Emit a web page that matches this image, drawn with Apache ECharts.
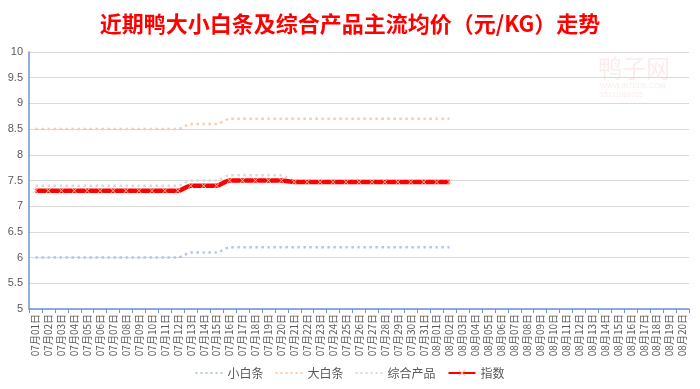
<!DOCTYPE html>
<html><head><meta charset="utf-8">
<script src="https://cdn.jsdelivr.net/npm/echarts@6/dist/echarts.min.js"></script>
<style>html,body{margin:0;padding:0;background:#fff}#c{width:700px;height:389px}</style>
</head><body><div id="c"></div>
<script>
var categories = ["07月01日","07月02日","07月03日","07月04日","07月05日","07月06日","07月07日","07月08日","07月09日","07月10日","07月11日","07月12日","07月13日","07月14日","07月15日","07月16日","07月17日","07月18日","07月19日","07月20日","07月21日","07月22日","07月23日","07月24日","07月25日","07月26日","07月27日","07月28日","07月29日","07月30日","07月31日","08月01日","08月02日","08月03日","08月04日","08月05日","08月06日","08月07日","08月08日","08月09日","08月10日","08月11日","08月12日","08月13日","08月14日","08月15日","08月16日","08月17日","08月18日","08月19日","08月20日"];
var xiaoBaiTiao = [6.0,6.0,6.0,6.0,6.0,6.0,6.0,6.0,6.0,6.0,6.0,6.0,6.1,6.1,6.1,6.2,6.2,6.2,6.2,6.2,6.2,6.2,6.2,6.2,6.2,6.2,6.2,6.2,6.2,6.2,6.2,6.2,6.2];
var daBaiTiao = [8.5,8.5,8.5,8.5,8.5,8.5,8.5,8.5,8.5,8.5,8.5,8.5,8.6,8.6,8.6,8.7,8.7,8.7,8.7,8.7,8.7,8.7,8.7,8.7,8.7,8.7,8.7,8.7,8.7,8.7,8.7,8.7,8.7];
var zongHe = [7.4,7.4,7.4,7.4,7.4,7.4,7.4,7.4,7.4,7.4,7.4,7.4,7.5,7.5,7.5,7.6,7.6,7.6,7.6,7.6,7.5,7.5,7.5,7.5,7.5,7.5,7.5,7.5,7.5,7.5,7.5,7.5,7.5];
var zhiShu = [7.3,7.3,7.3,7.3,7.3,7.3,7.3,7.3,7.3,7.3,7.3,7.3,7.4,7.4,7.4,7.5,7.5,7.5,7.5,7.5,7.47,7.47,7.47,7.47,7.47,7.47,7.47,7.47,7.47,7.47,7.47,7.47,7.47];
var seriesNames = ["小白条","大白条","综合产品","指数"];

var chart = echarts.init(document.getElementById('c'), null, {renderer:'canvas'});
var crossPath = 'path://M0,0 L1,0 L5,4 L9,0 L10,0 L10,1 L6,5 L10,9 L10,10 L9,10 L5,6 L1,10 L0,10 L0,9 L4,5 L0,1 Z';
var dotIcon = 'path://M0,0h2v2h-2z M5,0h2v2h-2z M10,0h2v2h-2z M15,0h2v2h-2z M20,0h2v2h-2z M25,0h2v2h-2z';
function dotted(name, data, color){
  return {name:name, type:'line', data:data, showSymbol:false, symbol:'none', smooth:0.25,
    lineStyle:{color:color, width:2.5, type:[2.5,3.5]}, itemStyle:{color:color}, z:2};
}
chart.setOption({
  animation:false,
  title:{text:'近期鸭大小白条及综合产品主流均价（元/KG）走势', left:'center', top:8,
    textStyle:{color:'#ff0000', fontSize:22, fontWeight:'bold', fontFamily:'"Noto Sans CJK SC", sans-serif'}},
  graphic:[
    {type:'text', left:598, top:56, style:{text:'鸭子网', fill:'rgba(240,170,170,0.22)', font:'24px "Noto Sans CJK SC"'}},
    {type:'text', left:600, top:83, style:{text:'WWW.INTEDE.COM', fill:'rgba(240,170,170,0.25)', font:'7px sans-serif'}},
    {type:'text', left:600, top:92, style:{text:'15131069765', fill:'rgba(240,170,170,0.25)', font:'7px sans-serif'}}
  ],
  grid:{left:29, right:11, top:52, bottom:80, containLabel:false},
  legend:{bottom:5, left:'center', itemGap:12, itemWidth:27, itemHeight:8,
    textStyle:{color:'#595959', fontSize:12, fontFamily:'"Noto Sans CJK SC", sans-serif'},
    data:[
      {name:seriesNames[0], icon:dotIcon},
      {name:seriesNames[1], icon:dotIcon},
      {name:seriesNames[2], icon:dotIcon},
      {name:seriesNames[3]}
    ]},
  xAxis:{type:'category', data:categories, boundaryGap:true,
    axisLine:{lineStyle:{color:'#6f93d6', width:1.5}},
    axisTick:{show:true, alignWithLabel:false, length:4, lineStyle:{color:'#6f93d6'}},
    axisLabel:{rotate:90, interval:0, color:'#595959', fontSize:10, margin:5, fontFamily:'"Noto Sans CJK SC", sans-serif'}},
  yAxis:{type:'value', min:5, max:10, interval:0.5,
    axisLine:{show:true, lineStyle:{color:'#6f93d6', width:1.5}},
    axisTick:{show:false},
    splitLine:{lineStyle:{color:'#d9d9d9', width:1}},
    axisLabel:{color:'#595959', fontSize:11, margin:6, fontFamily:'"Liberation Sans", sans-serif'}},
  series:[
    dotted(seriesNames[0], xiaoBaiTiao, '#b4c7e7'),
    dotted(seriesNames[1], daBaiTiao, '#f8cbad'),
    dotted(seriesNames[2], zongHe, '#d9d9d9'),
    {name:seriesNames[3], type:'line', data:zhiShu, smooth:0.25, symbol:crossPath, symbolSize:5, showSymbol:true,
      lineStyle:{color:'#ff0000', width:4.5}, itemStyle:{color:'#f8cbad', borderWidth:0}, z:3}
  ]
});
</script></body></html>
